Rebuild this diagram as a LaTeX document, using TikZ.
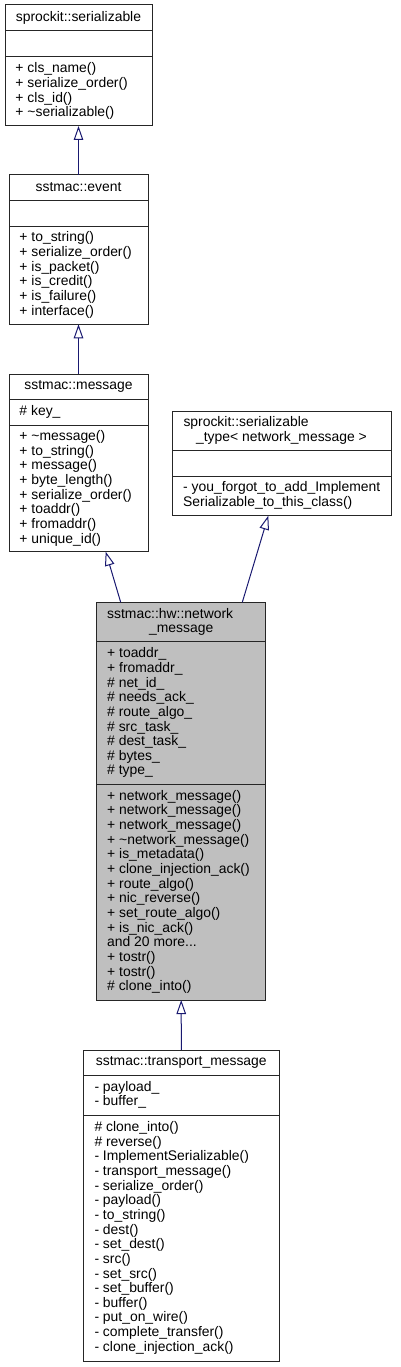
\documentclass[tikz,border=0pt]{standalone}
\usepackage{fontspec}
\setmainfont{Liberation Sans}
\usetikzlibrary{arrows.meta}
\definecolor{edgeblue}{HTML}{191970}
\definecolor{hlgray}{HTML}{BFBFBF}
\tikzset{
  cls/.style={draw=black!85, line width=1pt, anchor=north west, inner sep=0pt, outer sep=0pt},
  sepline/.style={draw=black!85, line width=1pt},
  txt/.style={anchor=base west, inner sep=0pt, outer sep=0pt, font=\fontsize{13.9}{14.65}\selectfont},
  ttl/.style={anchor=base, inner sep=0pt, outer sep=0pt, font=\fontsize{13.9}{14.65}\selectfont},
  inh/.style={draw=edgeblue, line width=1pt, -{Triangle[open, length=14pt, width=9.5pt]}}
}
% #1 name prefix, #2 x, #3 top, #4 bottom, #5 number of lines, #6 list
\newcommand{\mlines}[6]{%
  \pgfmathsetmacro{\ystart}{(#3+#4)/2 - #5*14.65/2 + 10.7}%
  \foreach \lbl [count=\i from 0] in {#6} {
    \node[txt] (#1\i) at (#2, \ystart+\i*14.65) {\lbl};
  }%
}
\begin{document}
\begin{tikzpicture}[x=1pt, y=-1pt]
\useasboundingbox (0,0) rectangle (401,1367);

% ---------- sprockit::serializable ----------
\node[cls, minimum width=147pt, minimum height=121pt] (b1) at (5,5) {};
\draw[sepline] (5,31) -- (152,31);
\draw[sepline] (5,57) -- (152,57);
\node[ttl] (b1t) at (78.5,21.4) {sprockit::serializable};
\mlines{b1m}{15.5}{57}{126}{4}{+ cls\_name(), + serialize\_order(), + cls\_id(), + \textasciitilde serializable()}

% ---------- sstmac::event ----------
\node[cls, minimum width=139pt, minimum height=149.3pt] (b2) at (9,175) {};
\draw[sepline] (9,200.7) -- (148,200.7);
\draw[sepline] (9,226) -- (148,226);
\node[ttl] (b2t) at (78.5,191.2) {sstmac::event};
\mlines{b2m}{19.5}{226}{324.3}{6}{+ to\_string(), + serialize\_order(), + is\_packet(), + is\_credit(), + is\_failure(), + interface()}

% ---------- sstmac::message ----------
\node[cls, minimum width=139pt, minimum height=177.7pt] (b3) at (9,374) {};
\draw[sepline] (9,399) -- (148,399);
\draw[sepline] (9,425) -- (148,425);
\node[ttl] (b3t) at (78.5,389.9) {sstmac::message};
\mlines{b3a}{19.5}{399}{425}{1}{\# key\_}
\mlines{b3m}{19.5}{425}{551.7}{8}{+ \textasciitilde message(), + to\_string(), + message(), + byte\_length(), + serialize\_order(), + toaddr(), + fromaddr(), + unique\_id()}

% ---------- sprockit::serializable_type< network_message > ----------
\node[cls, minimum width=219pt, minimum height=104.7pt] (b4) at (172.7,411) {};
\draw[sepline] (172.7,450.7) -- (391.7,450.7);
\draw[sepline] (172.7,476) -- (391.7,476);
\node[txt] (b4t1) at (183.5,426.9) {sprockit::serializable};
\node[ttl] (b4t2) at (281.5,441.55) {\_type< network\_message >};
\mlines{b4m}{183.2}{476}{515.7}{2}{- you\_forgot\_to\_add\_Implement, Serializable\_to\_this\_class()}

% ---------- sstmac::hw::network_message ----------
\node[cls, fill=hlgray, minimum width=169pt, minimum height=397.7pt] (b5) at (96.7,602.3) {};
\draw[sepline] (96.7,641.7) -- (265.7,641.7);
\draw[sepline] (96.7,784.3) -- (265.7,784.3);
\node[txt] (b5t1) at (107.2,618.05) {sstmac::hw::network};
\node[ttl] (b5t2) at (181.2,632.7) {\_message};
\mlines{b5a}{107.2}{641.7}{784.3}{9}{+ toaddr\_, + fromaddr\_, \# net\_id\_, \# needs\_ack\_, \# route\_algo\_, \# src\_task\_, \# dest\_task\_, \# bytes\_, \# type\_}
\mlines{b5m}{107.2}{784.3}{1000}{14}{+ network\_message(), + network\_message(), + network\_message(), + \textasciitilde network\_message(), + is\_metadata(), + clone\_injection\_ack(), + route\_algo(), + nic\_reverse(), + set\_route\_algo(), + is\_nic\_ack(), and 20 more{.}{.}{.}, + tostr(), + tostr(), \# clone\_into()}

% ---------- sstmac::transport_message ----------
\node[cls, minimum width=196pt, minimum height=311pt] (b6) at (83.3,1050) {};
\draw[sepline] (83.3,1075) -- (279.3,1075);
\draw[sepline] (83.3,1115) -- (279.3,1115);
\node[ttl] (b6t) at (181.3,1065.9) {sstmac::transport\_message};
\mlines{b6a}{94.5}{1075}{1115}{2}{- payload\_, - buffer\_}
\mlines{b6m}{94.5}{1115}{1361}{16}{\# clone\_into(), \# reverse(), - ImplementSerializable(), - transport\_message(), - serialize\_order(), - payload(), - to\_string(), - dest(), - set\_dest(), - src(), - set\_src(), - set\_buffer(), - buffer(), - put\_on\_wire(), - complete\_transfer(), - clone\_injection\_ack()}

% ---------- inheritance connectors ----------
\draw[inh] (b2.north) -- (b1.south);
\draw[inh] (b3.north) -- (b2.south);
\draw[inh] ([xshift=24pt]b5.north west) -- ([xshift=96.7pt]b3.south west);
\draw[inh] ([xshift=145.6pt]b5.north west) -- ([xshift=95.6pt]b4.south west);
\draw[inh] (b6.north) -- (b5.south);
\end{tikzpicture}
\end{document}
